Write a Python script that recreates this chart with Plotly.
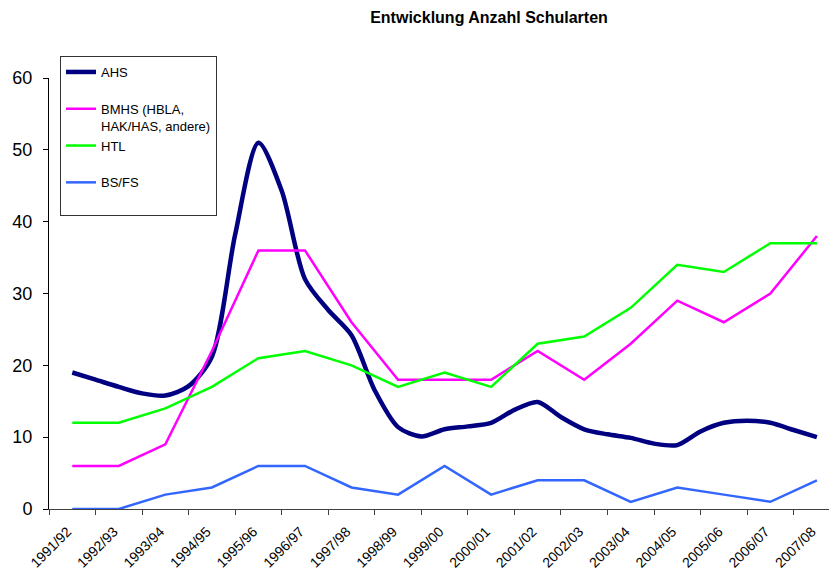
import plotly.graph_objects as go

# Categories (school years)
years = ["1991/92", "1992/93", "1993/94", "1994/95", "1995/96", "1996/97", "1997/98",
         "1998/99", "1999/00", "2000/01", "2001/02", "2002/03", "2003/04", "2004/05",
         "2005/06", "2006/07", "2007/08"]

# AHS is drawn as a smoothed curve read at half-category steps
ahs_pos = [i / 2 for i in range(33)]
ahs = [19, 18, 17, 16.1, 15.8, 17.1, 21.2, 38.2, 51, 44.3, 32, 27.7, 24.2, 16.5, 11.4, 10.1,
       11.1, 11.5, 12.0, 13.8, 14.9, 12.8, 11.1, 10.4, 9.9, 9.1, 8.9, 10.8, 12.0, 12.3, 12.0, 11.0, 10]

bmhs = [6, 6, 9, 22, 36, 36, 26, 18, 18, 18, 22, 18, 23, 29, 26, 30, 38]
htl = [12, 12, 14, 17, 21, 22, 20, 17, 19, 17, 23, 24, 28, 34, 33, 37, 37]
bsfs = [0, 0, 2, 3, 6, 6, 3, 2, 6, 2, 4, 4, 1, 3, 2, 1, 4]

y_ticks = [0, 10, 20, 30, 40, 50, 60]

pos = list(range(len(years)))
boundaries = [p - 0.5 for p in range(len(years) + 1)]

NB = "\u00a0"
fig = go.Figure()
fig.add_trace(go.Scatter(x=ahs_pos, y=ahs, mode="lines", name="AHS<br>" + NB,
                         line=dict(color="#000080", width=4.5, shape="spline", smoothing=0.8),
                         legendgroup="a"))
fig.add_trace(go.Scatter(x=pos, y=bmhs, mode="lines", name="BMHS (HBLA,<br>HAK/HAS, andere)",
                         line=dict(color="#FF00FF", width=2.5), legendgroup="b"))
fig.add_trace(go.Scatter(x=pos, y=htl, mode="lines", name="HTL<br>" + NB,
                         line=dict(color="#00FF00", width=2.5), legendgroup="c"))
fig.add_trace(go.Scatter(x=pos, y=bsfs, mode="lines", name="BS/FS<br>" + NB,
                         line=dict(color="#3366FF", width=2.5), legendgroup="d"))
# invisible trace to activate the boundary-tick axis
fig.add_trace(go.Scatter(x=boundaries, y=[None] * len(boundaries), xaxis="x2",
                         showlegend=False, hoverinfo="skip"))

xr = [-0.5, 16.26]
fig.update_layout(
    width=829, height=571,
    margin=dict(l=49, r=0, t=78, b=62),
    paper_bgcolor="white", plot_bgcolor="white",
    font=dict(family="Liberation Sans, Arial, sans-serif", color="black"),
    title=dict(text="<b>Entwicklung Anzahl Schularten</b>", x=489 / 829, xanchor="center",
               y=1 - 17 / 571, yanchor="middle", font=dict(size=16, color="black")),
    showlegend=True,
    legend=dict(x=(60 - 49) / 780, y=(509 - 56) / 431, xanchor="left", yanchor="top",
                bordercolor="#333333", borderwidth=1, bgcolor="white",
                font=dict(size=13, color="black"), tracegroupgap=0, valign="top",
                traceorder="normal"),
    xaxis=dict(range=xr, tickmode="array", tickvals=pos, ticktext=years, tickangle=-45,
               ticks="", showgrid=False, zeroline=False, showline=True, linecolor="#404040",
               linewidth=1, tickfont=dict(size=14, color="black"),
               ticklabelstandoff=8, ticklabelshift=-5),
    xaxis2=dict(range=xr, overlaying="x", tickmode="array", tickvals=boundaries,
                ticks="outside", ticklen=5, tickcolor="#404040", showticklabels=False,
                showgrid=False, zeroline=False, showline=False, side="bottom", anchor="y"),
    yaxis=dict(range=[0, 60], tickmode="array", tickvals=y_ticks, ticks="outside", ticklen=5,
               tickcolor="black", showgrid=False, zeroline=False, showline=True,
               linecolor="black", linewidth=1, tickfont=dict(size=18, color="black"),
               ticklabelstandoff=7),
)

fig.write_html("out.html", config={"displayModeBar": False},
               post_script="document.body.style.margin='0px';")
